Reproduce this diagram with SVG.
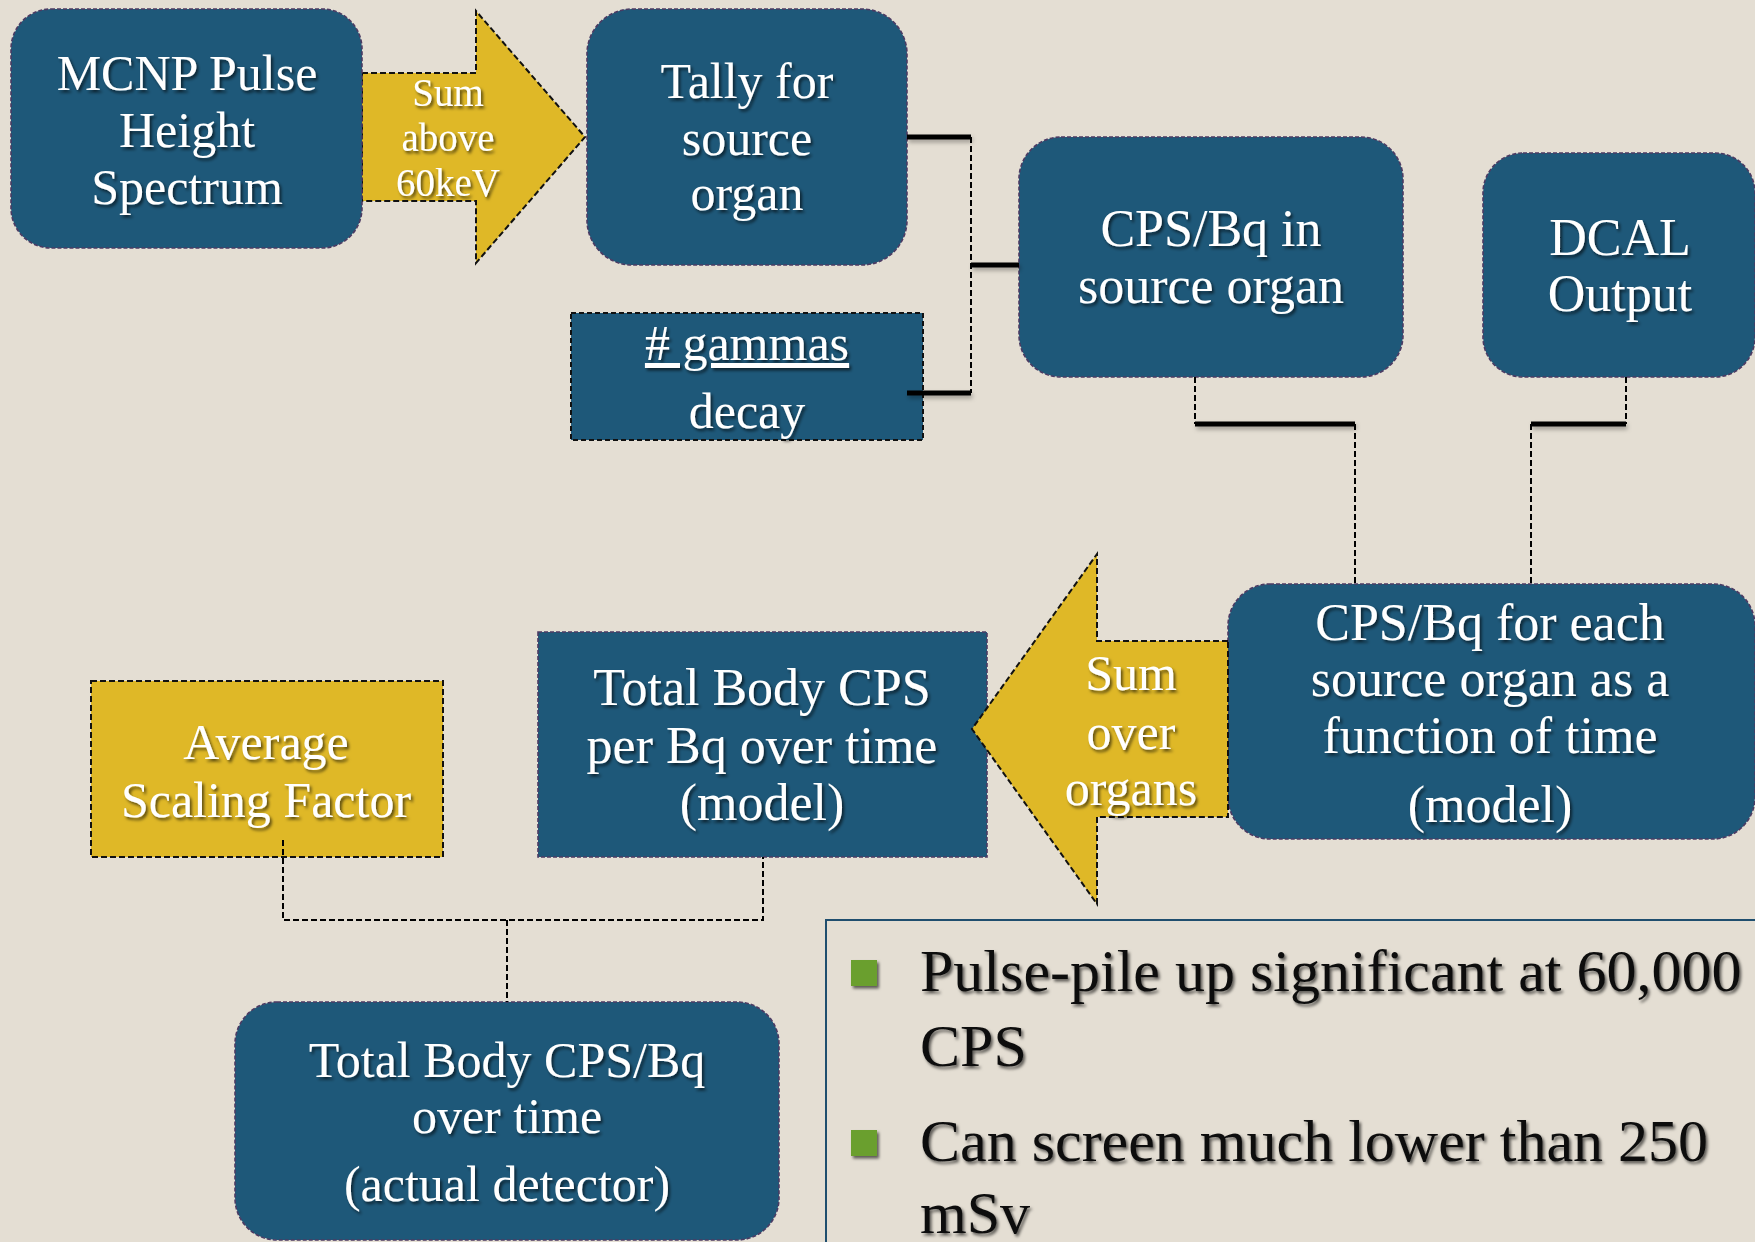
<svg xmlns="http://www.w3.org/2000/svg" width="1755" height="1242" viewBox="0 0 1755 1242">
<defs>
<filter id="ts" x="-10%" y="-20%" width="130%" height="150%">
<feDropShadow dx="2" dy="2.5" stdDeviation="1.5" flood-color="#000" flood-opacity="0.6"/>
</filter>
<filter id="ls" filterUnits="userSpaceOnUse" x="0" y="0" width="1755" height="1242">
<feDropShadow dx="1.5" dy="3" stdDeviation="2" flood-color="#000" flood-opacity="0.3"/>
</filter>
</defs>
<style>
.box{fill:#1e5879;stroke:#4b3b63;stroke-width:1.6;stroke-dasharray:4 2}
.boxk{fill:#1e5879;stroke:#111;stroke-width:2;stroke-dasharray:5 3}
.gold{fill:#dfb827;stroke:#111;stroke-width:2;stroke-dasharray:6 3}
.t{font-family:"Liberation Serif","Times New Roman",serif;fill:#fff;text-anchor:middle;filter:url(#ts)}
.thick{stroke:#000;stroke-width:5;fill:none;filter:url(#ls)}
.dash{stroke:#000;stroke-width:2;fill:none;stroke-dasharray:6 3}
.bt{font-family:"Liberation Serif","Times New Roman",serif;fill:#111;font-size:60px;filter:url(#ts)}
.bul{fill:#6a9f2e;filter:url(#ts)}
</style>
<rect width="1755" height="1242" fill="#e4ded3"/>

<g id="arrow-sum-60kev">
<polygon class="gold" points="362,73 476,73 476,11 585,137 476,263 476,201 362,201"/>
<text class="t" font-size="39" x="448" y="106">Sum</text>
<text class="t" font-size="39" x="448" y="151">above</text>
<text class="t" font-size="39" x="448" y="196">60keV</text>
</g>

<g id="node-mcnp">
<rect class="box" x="11" y="9" width="351" height="239" rx="40"/>
<text class="t" font-size="50" x="187" y="90">MCNP Pulse</text>
<text class="t" font-size="50" x="187" y="147">Height</text>
<text class="t" font-size="50" x="187" y="204">Spectrum</text>
</g>

<g id="node-tally">
<rect class="box" x="587" y="9" width="320" height="256" rx="45"/>
<text class="t" font-size="50" x="747" y="98">Tally for</text>
<text class="t" font-size="50" x="747" y="155">source</text>
<text class="t" font-size="50" x="747" y="210">organ</text>
</g>

<g id="node-gammas">
<rect class="boxk" x="571" y="313" width="352" height="127"/>
<text class="t" font-size="50" x="747" y="360" text-decoration="underline"># gammas</text>
<text class="t" font-size="50" x="747" y="428">decay</text>
</g>

<g id="node-cps-source">
<rect class="box" x="1019" y="137" width="384" height="240" rx="42"/>
<text class="t" font-size="52" x="1211" y="246">CPS/Bq in</text>
<text class="t" font-size="52" x="1211" y="303">source organ</text>
</g>

<g id="node-dcal">
<rect class="box" x="1483" y="153" width="272" height="224" rx="40"/>
<text class="t" font-size="52" x="1620" y="255">DCAL</text>
<text class="t" font-size="52" x="1620" y="311">Output</text>
</g>

<g id="node-cps-each">
<rect class="box" x="1228" y="584" width="527" height="255" rx="42"/>
<text class="t" font-size="52" x="1490" y="640">CPS/Bq for each</text>
<text class="t" font-size="52" x="1490" y="696">source organ as a</text>
<text class="t" font-size="52" x="1490" y="753">function of time</text>
<text class="t" font-size="52" x="1490" y="822">(model)</text>
</g>

<g id="node-total-model">
<rect class="box" x="538" y="632" width="449" height="225"/>
<text class="t" font-size="52" x="762" y="705">Total Body CPS</text>
<text class="t" font-size="52" x="762" y="763">per Bq over time</text>
<text class="t" font-size="52" x="762" y="820">(model)</text>
</g>

<g id="arrow-sum-organs">
<polygon class="gold" points="1228,641 1097,641 1097,554 972,729 1097,904 1097,817 1228,817"/>
<text class="t" font-size="50" x="1131" y="690">Sum</text>
<text class="t" font-size="50" x="1131" y="749">over</text>
<text class="t" font-size="50" x="1131" y="805">organs</text>
</g>

<g id="node-scaling">
<rect class="gold" x="91" y="681" width="352" height="176"/>
<text class="t" font-size="50" x="266" y="759">Average</text>
<text class="t" font-size="50" x="266" y="817">Scaling Factor</text>
</g>

<g id="node-total-actual">
<rect class="box" x="235" y="1002" width="544" height="238" rx="42"/>
<text class="t" font-size="50" x="507" y="1077">Total Body CPS/Bq</text>
<text class="t" font-size="50" x="507" y="1133">over time</text>
<text class="t" font-size="50" x="507" y="1201">(actual detector)</text>
</g>

<g id="connectors">
<path class="dash" d="M971,137 V393"/>
<path class="thick" d="M907,137 H971"/>
<path class="thick" d="M907,393 H971"/>
<path class="thick" d="M971,265 H1019"/>
<path class="dash" d="M1195,377 V424"/>
<path class="thick" d="M1195,424 H1355"/>
<path class="dash" d="M1355,424 V584"/>
<path class="dash" d="M1626,377 V424"/>
<path class="thick" d="M1531,424 H1626"/>
<path class="dash" d="M1531,424 V584"/>
<path class="dash" d="M283,840 V920 H763 V857"/>
<path class="dash" d="M507,920 V1002"/>
</g>

<g id="notes">
<rect x="826" y="920" width="940" height="330" fill="none" stroke="#1f4e6e" stroke-width="2"/>
<rect class="bul" x="851" y="960" width="26" height="26"/>
<text class="bt" x="920" y="991">Pulse-pile up significant at 60,000</text>
<text class="bt" x="920" y="1066">CPS</text>
<rect class="bul" x="851" y="1130" width="26" height="26"/>
<text class="bt" x="920" y="1161">Can screen much lower than 250</text>
<text class="bt" x="920" y="1233">mSv</text>
</g>
</svg>
